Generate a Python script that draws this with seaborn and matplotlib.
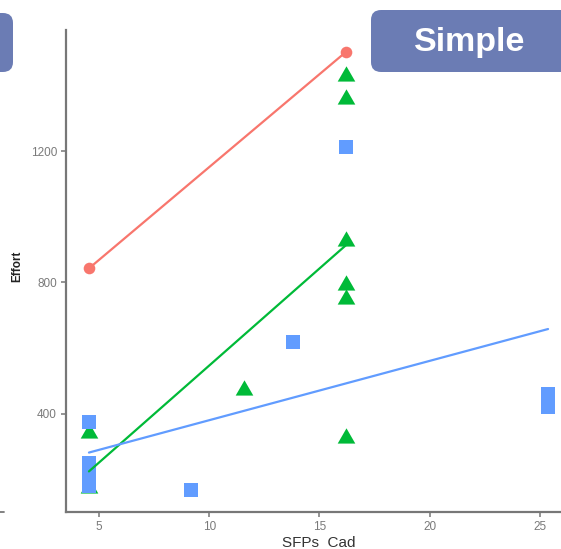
import numpy as np
import pandas as pd
import matplotlib
matplotlib.use("Agg")
import matplotlib.pyplot as plt
from matplotlib.patches import FancyBboxPatch
from matplotlib.lines import Line2D
from matplotlib.path import Path
import seaborn as sns

# ---- data ----
red_x = [4.55, 16.2]
red_y = [843, 1502]

green_x = [4.55, 4.55, 11.56, 16.2, 16.2, 16.2, 16.2, 16.2, 16.2]
green_y = [342, 174, 473, 1429, 1359, 925, 791, 751, 327]

blue_x = [4.55, 4.55, 4.55, 4.55, 4.55, 4.55, 9.16, 13.8, 16.2, 25.36, 25.36]
blue_y = [376, 250, 230, 210, 190, 180, 168, 620, 1212, 461, 421]

x_ticks = [5, 10, 15, 20, 25]
y_ticks = [400, 800, 1200]
x_label = "SFPs  Cad"
y_label = "Effort"
panel_title = "Simple"

groups = ["G1", "G2", "G3"]
colors = {"G1": "#F8766D", "G2": "#00BA38", "G3": "#619CFF"}

df = pd.concat([
    pd.DataFrame({"x": red_x, "y": red_y, "g": "G1"}),
    pd.DataFrame({"x": green_x, "y": green_y, "g": "G2"}),
    pd.DataFrame({"x": blue_x, "y": blue_y, "g": "G3"}),
], ignore_index=True)

sns.set_theme(style="white")
plt.rcParams["font.family"] = ["Liberation Sans", "DejaVu Sans"]

W, H = 561, 549
fig = plt.figure(figsize=(W / 100, H / 100), dpi=100)
ax = fig.add_axes([66 / W, (H - 512) / H, (571 - 66) / W, (512 - 30) / H])

tri = Path([(-1, -0.577), (1, -0.577), (0, 1.155), (-1, -0.577)],
           [Path.MOVETO, Path.LINETO, Path.LINETO, Path.CLOSEPOLY])
marker_of = {"G1": "o", "G2": tri, "G3": "s"}
size_of = {"G1": 70, "G2": 215, "G3": 100}

for g in groups:
    sub = df[df.g == g]
    sns.scatterplot(data=sub, x="x", y="y", ax=ax, color=colors[g],
                    marker=marker_of[g], s=size_of[g], linewidth=0,
                    zorder=2, legend=False)

for g in groups:
    sub = df[df.g == g]
    sns.regplot(data=sub, x="x", y="y", ax=ax, scatter=False, ci=None,
                truncate=True, color=colors[g],
                line_kws={"linewidth": 1.6, "zorder": 3})

# ggplot-like 5% expansion
xmin, xmax = df.x.min(), df.x.max()
ymin, ymax = df.y.min(), df.y.max()
ax.set_xlim(xmin - 0.05 * (xmax - xmin), xmax + 0.05 * (xmax - xmin))
ax.set_ylim(ymin - 0.05 * (ymax - ymin), ymax + 0.05 * (ymax - ymin))
ax.set_xticks(x_ticks)
ax.set_yticks(y_ticks)

for s in ["top", "right"]:
    ax.spines[s].set_visible(False)
for s in ["left", "bottom"]:
    ax.spines[s].set_color("#777777")
    ax.spines[s].set_linewidth(1.6)
ax.tick_params(axis="both", which="both", direction="out", length=3.5,
               width=1.1, color="#777777", labelcolor="#7a7a7a",
               labelsize=8.5, pad=3, bottom=True, left=True)

ax.set_xlabel(x_label, fontsize=11, color="#333333", labelpad=2)
ax.set_ylabel("")
fig.text(17 / W, 1 - 266 / H, y_label, rotation=90, ha="center", va="center",
         fontsize=8.5, fontweight="bold", color="#222222")

box_col = "#6b7cb4"
# right "Simple" box (cropped at figure edge)
fig.patches.append(FancyBboxPatch((371 / W, (H - 72) / H), 230 / W, 62 / H,
                                  boxstyle="round,pad=0,rounding_size=0.018",
                                  transform=fig.transFigure, facecolor=box_col,
                                  edgecolor="none", zorder=5))
fig.text(470 / W, 1 - 43 / H, panel_title, ha="center", va="center",
         fontsize=24.5, fontweight="bold", color="white", zorder=6)
# left partial box from neighbouring panel
fig.patches.append(FancyBboxPatch((-40 / W, (H - 72) / H), 53 / W, 59 / H,
                                  boxstyle="round,pad=0,rounding_size=0.018",
                                  transform=fig.transFigure, facecolor=box_col,
                                  edgecolor="none", zorder=5))
# stray tick of neighbouring panel
fig.lines.append(Line2D([0, 4 / W], [(H - 512) / H, (H - 512) / H],
                        transform=fig.transFigure, color="#777777", linewidth=1.3))

fig.savefig("out.png", dpi=100)
